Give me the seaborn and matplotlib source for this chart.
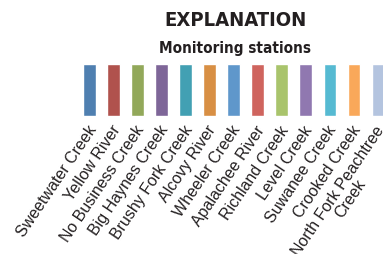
import numpy as np
import seaborn as sns
import matplotlib.pyplot as plt
import matplotlib.transforms as mtransforms
import pandas as pd

stations = ["Sweetwater Creek", "Yellow River", "No Business Creek", "Big Haynes Creek",
            "Brushy Fork Creek", "Alcovy River", "Wheeler Creek", "Apalachee River",
            "Richland Creek", "Level Creek", "Suwanee Creek", "Crooked Creek",
            "North Fork Peachtree\nCreek"]
colors = ["#4f7fb0", "#b0524d", "#92a85a", "#7e6698", "#42a0b3", "#d88f44", "#5f97cb",
          "#cf645e", "#a9c46c", "#9078b0", "#56bad2", "#f9a85a", "#b4c4df"]
heights = [1] * len(stations)

df = pd.DataFrame({"station": stations, "h": heights})

sns.set_style("white")
fig = plt.figure(figsize=(3.83, 2.54), dpi=100)
ax = fig.add_axes([0.203, 0.543, 0.815, 0.205])

sns.barplot(data=df, x="station", y="h", hue="station", palette=colors,
            width=0.53, saturation=1, legend=False, ax=ax)
ax.set_xlim(-0.5, len(stations) - 0.5)
ax.set_ylim(0, 1)
sns.despine(ax=ax, left=True, bottom=True)
ax.set_yticks([])
ax.set_xlabel("")
ax.set_ylabel("")
ax.tick_params(axis="x", length=0, pad=0)

offset = mtransforms.ScaledTranslation(-3 / 100, -7 / 100, fig.dpi_scale_trans)
for lab in ax.get_xticklabels():
    lab.set_rotation(56)
    lab.set_ha("right")
    lab.set_va("top")
    lab.set_rotation_mode("anchor")
    lab.set_multialignment("center")
    lab.set_linespacing(1.0)
    lab.set_fontsize(11.5)
    lab.set_family(["Liberation Sans", "DejaVu Sans"])
    lab.set_color("#231f20")
    lab.set_transform(lab.get_transform() + offset)

fig.text(0.614, 0.92, "EXPLANATION", ha="center", va="center", fontsize=14.5,
         fontweight="bold", fontstretch="condensed", family="DejaVu Sans", color="#231f20")
fig.text(0.614, 0.81, "Monitoring stations", ha="center", va="center", fontsize=11,
         fontweight="bold", fontstretch="condensed", family="DejaVu Sans", color="#231f20")

fig.savefig("out.png", dpi=100)
